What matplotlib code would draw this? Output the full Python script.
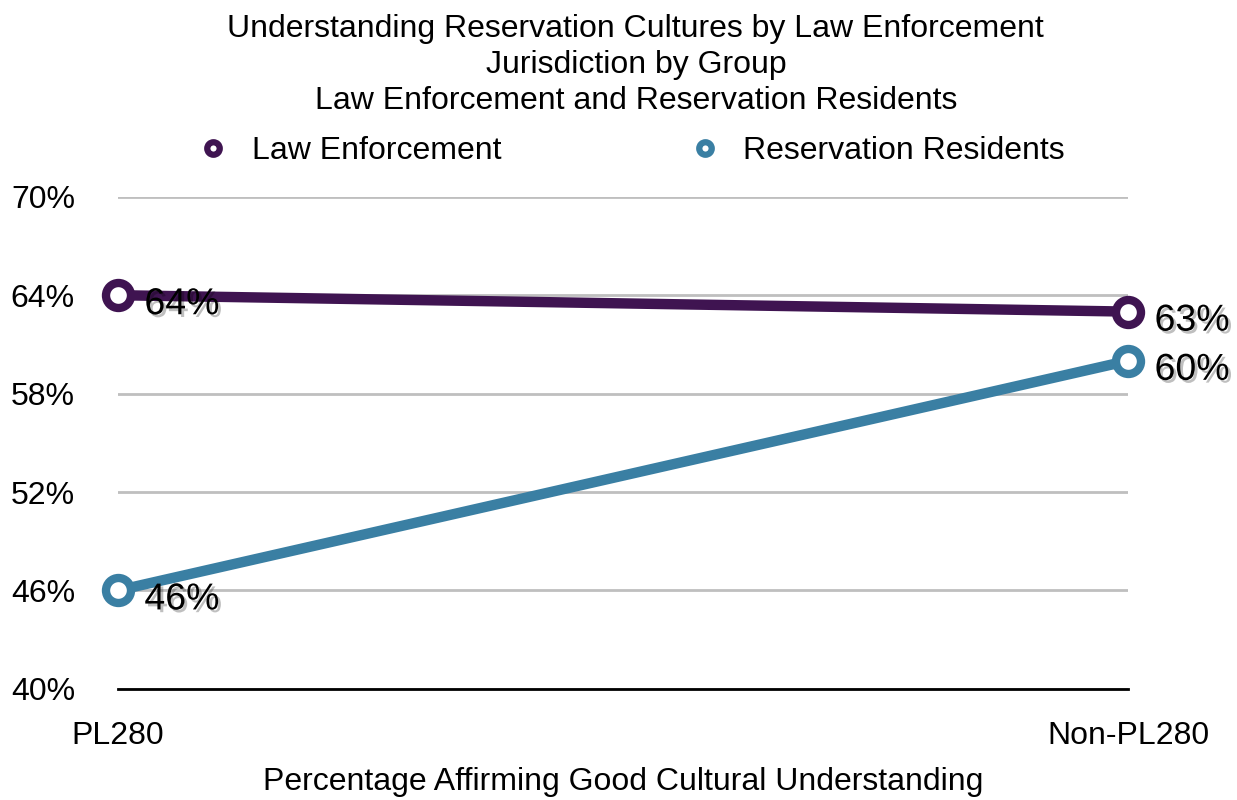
import matplotlib
matplotlib.use("Agg")
import matplotlib.pyplot as plt
import matplotlib.patheffects as pe
from matplotlib.lines import Line2D

plt.rcParams['font.family'] = ['Liberation Sans', 'DejaVu Sans']

categories = ["PL280", "Non-PL280"]
law_enforcement = [64, 63]
residents = [46, 60]
series_names = ["Law Enforcement", "Reservation Residents"]
y_ticks = [40, 46, 52, 58, 64, 70]

purple = "#3f1451"
blue = "#3a7fa3"

fig = plt.figure(figsize=(12.37, 8), dpi=100)
ax = fig.add_axes([0.0954, 0.139, 0.8166, 0.615])

x = list(range(len(categories)))
shadow = [pe.SimplePatchShadow(offset=(2, -2), shadow_rgbFace='black', alpha=0.25), pe.Normal()]

for vals, color in [(law_enforcement, purple), (residents, blue)]:
    ax.plot(x, vals, color=color, lw=7.5, marker='o', ms=18, mew=6,
            mfc='white', mec=color, zorder=3, solid_capstyle='butt', clip_on=False)
    for xi, v in zip(x, vals):
        ax.annotate(f"{v}%", (xi, v), xytext=(19, -6.5), textcoords='offset points',
                    ha='left', va='center', fontsize=27, zorder=4, path_effects=shadow)

ax.set_xlim(0, 1)
ax.set_ylim(40, 70)
ax.set_yticks(y_ticks)
ax.set_yticklabels([f"{t}%" for t in y_ticks], fontsize=23)
ax.set_xticks(x)
ax.set_xticklabels(categories, fontsize=23)
ax.tick_params(axis='both', length=0)
ax.tick_params(axis='y', pad=31)
ax.tick_params(axis='x', pad=23)
ax.grid(axis='y', color='#bfbfbf', lw=2)
ax.set_axisbelow(True)
for s in ['left', 'right', 'top']:
    ax.spines[s].set_visible(False)
ax.spines['bottom'].set_linewidth(2)
ax.spines['bottom'].set_color('black')
ax.spines['bottom'].set_zorder(2)
ax.set_xlabel("Percentage Affirming Good Cultural Understanding", fontsize=23)
ax.xaxis.set_label_coords(0.5, -0.158)

fig.text(0.514, 0.919, "Understanding Reservation Cultures by Law Enforcement\nJurisdiction by Group\nLaw Enforcement and Reservation Residents",
         ha='center', va='center', fontsize=23, linespacing=1.27)

handles = [Line2D([], [], color=c, lw=0, marker='o', ms=9, mew=4.5, mfc='white', mec=c)
           for c in (purple, blue)]
fig.legend(handles, series_names, loc='center', bbox_to_anchor=(0.507, 0.811), ncol=2,
           frameon=False, fontsize=23, columnspacing=5.64, handletextpad=0.45, handlelength=1.5)

fig.savefig("out.png", dpi=100)
